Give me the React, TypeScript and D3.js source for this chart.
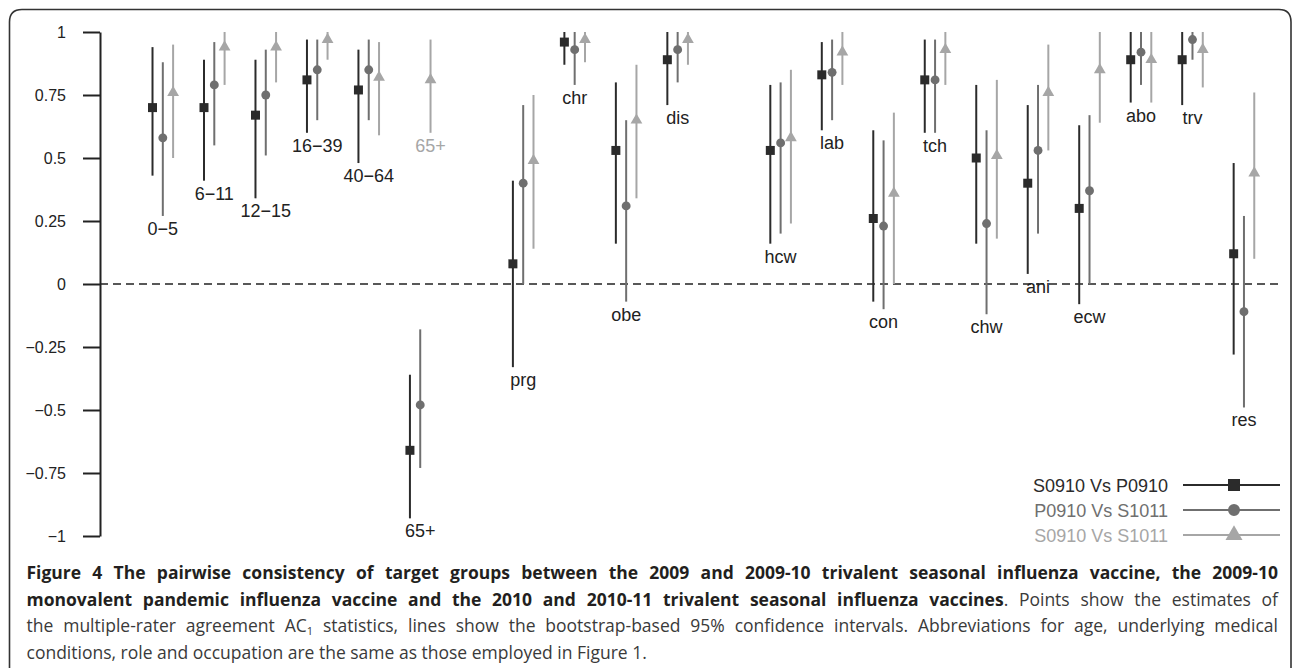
import React, { useRef, useEffect } from 'react';
import * as d3 from 'd3';

// target groups, in plotting order; gaps in the slot sequence are empty columns
const groups = ['0−5', '6−11', '12−15', '16−39', '40−64', '65+', 'prg', 'chr', 'obe', 'dis', 'hcw', 'lab', 'con', 'tch', 'chw', 'ani', 'ecw', 'abo', 'trv', 'res'];
const slots = [0, 1, 2, 3, 4, 5, 7, 8, 9, 10, 12, 13, 14, 15, 16, 17, 18, 19, 20, 21];

const seriesNames = ['S0910 Vs P0910', 'P0910 Vs S1011', 'S0910 Vs S1011'];

// S0910 Vs P0910
const est1 = [0.70, 0.70, 0.67, 0.81, 0.77, -0.66, 0.08, 0.96, 0.53, 0.89, 0.53, 0.83, 0.26, 0.81, 0.50, 0.40, 0.30, 0.89, 0.89, 0.12];
const lo1 = [0.43, 0.41, 0.34, 0.60, 0.48, -0.93, -0.33, 0.87, 0.16, 0.71, 0.16, 0.61, -0.07, 0.60, 0.16, 0.04, -0.08, 0.72, 0.71, -0.28];
const hi1 = [0.94, 0.89, 0.89, 0.97, 0.93, -0.36, 0.41, 1.0, 0.80, 1.0, 0.79, 0.96, 0.61, 0.97, 0.79, 0.71, 0.63, 1.0, 1.0, 0.48];

// P0910 Vs S1011
const est2 = [0.58, 0.79, 0.75, 0.85, 0.85, -0.48, 0.40, 0.93, 0.31, 0.93, 0.56, 0.84, 0.23, 0.81, 0.24, 0.53, 0.37, 0.92, 0.97, -0.11];
const lo2 = [0.27, 0.55, 0.51, 0.65, 0.65, -0.73, 0.0, 0.79, -0.07, 0.80, 0.20, 0.65, -0.10, 0.60, -0.12, 0.20, 0.0, 0.79, 0.89, -0.49];
const hi2 = [0.88, 0.96, 0.93, 0.97, 0.97, -0.18, 0.71, 1.0, 0.65, 1.0, 0.80, 0.97, 0.57, 0.97, 0.61, 0.79, 0.67, 1.0, 1.0, 0.27];

// S0910 Vs S1011
const est3 = [0.76, 0.94, 0.94, 0.97, 0.82, 0.81, 0.49, 0.97, 0.65, 0.97, 0.58, 0.92, 0.36, 0.93, 0.51, 0.76, 0.85, 0.89, 0.93, 0.44];
const lo3 = [0.50, 0.79, 0.80, 0.89, 0.59, 0.60, 0.14, 0.88, 0.34, 0.87, 0.24, 0.79, 0.0, 0.79, 0.18, 0.53, 0.64, 0.72, 0.78, 0.10];
const hi3 = [0.95, 1.0, 1.0, 1.0, 0.96, 0.97, 0.75, 1.0, 0.87, 1.0, 0.85, 1.0, 0.68, 1.0, 0.81, 0.95, 1.0, 1.0, 1.0, 0.76];

const yTicks = [1, 0.75, 0.5, 0.25, 0, -0.25, -0.5, -0.75, -1];
const yTickLabels = ['1', '0.75', '0.5', '0.25', '0', '−0.25', '−0.5', '−0.75', '−1'];

// groups whose third series sits far away from the others get a separate grey label
const splitGroups = ['65+'];

const captionBold1 = 'Figure 4 The pairwise consistency of target groups between the 2009 and 2009-10 trivalent seasonal influenza vaccine, the 2009-10';
const captionBold2 = 'monovalent pandemic influenza vaccine and the 2010 and 2010-11 trivalent seasonal influenza vaccines';
const captionRest2 = '. Points show the estimates of';
const captionLine3a = 'the multiple-rater agreement AC';
const captionLine3b = ' statistics, lines show the bootstrap-based 95% confidence intervals. Abbreviations for age, underlying medical';
const captionLine4 = 'conditions, role and occupation are the same as those employed in Figure 1.';

const colors = ['#2b2b2b', '#6f6f6f', '#a6a6a6'];
const offsets = [-0.2, 0, 0.2];
const symbols = [d3.symbolSquare, d3.symbolCircle, d3.symbolTriangle];

const App: React.FC = () => {
  const chartRef = useRef<SVGSVGElement | null>(null);

  useEffect(() => {
    if (!chartRef.current) return;
    const svg = d3.select(chartRef.current);
    svg.selectAll('*').remove();

    const chartFont = '"Liberation Sans", Arial, sans-serif';
    const x = d3.scaleLinear().domain([-1.22, 21.7]).range([100, 1280]);
    const y = d3.scaleLinear().domain([-1, 1]).range([536, 32]);

    // rounded frame round the figure
    svg
      .append('path')
      .attr('d', 'M9.5,668 L9.5,22 Q9.5,9.5 22,9.5 L1279,9.5 Q1291,9.5 1291,22 L1291,668')
      .attr('fill', 'none')
      .attr('stroke', '#333')
      .attr('stroke-width', 1.6);

    // y axis
    const yAxis = d3
      .axisLeft(y)
      .tickValues(yTicks)
      .tickFormat((d, i) => yTickLabels[i])
      .tickSize(17)
      .tickSizeOuter(0)
      .tickPadding(17);
    const ag = svg.append('g').attr('transform', 'translate(100,0)').call(yAxis);
    ag.selectAll('path, line').attr('stroke', '#222').attr('stroke-width', 2);
    ag.selectAll('text')
      .attr('font-family', chartFont)
      .attr('font-size', 16)
      .attr('fill', '#222');

    // zero reference
    svg
      .append('line')
      .attr('x1', x.range()[0])
      .attr('x2', x.range()[1])
      .attr('y1', y(0))
      .attr('y2', y(0))
      .attr('stroke', '#222')
      .attr('stroke-width', 1.4)
      .attr('stroke-dasharray', '8,5');

    const series = [
      { est: est1, lo: lo1, hi: hi1 },
      { est: est2, lo: lo2, hi: hi2 },
      { est: est3, lo: lo3, hi: hi3 },
    ];
    const symSizes = [81, 62, 60];

    series.forEach((s, k) => {
      const g = svg.append('g');
      g.selectAll('line')
        .data(groups)
        .enter()
        .append('line')
        .attr('x1', (d, i) => x(slots[i] + offsets[k]))
        .attr('x2', (d, i) => x(slots[i] + offsets[k]))
        .attr('y1', (d, i) => y(s.lo[i]))
        .attr('y2', (d, i) => y(s.hi[i]))
        .attr('stroke', colors[k])
        .attr('stroke-width', 2);
      g.selectAll('path')
        .data(groups)
        .enter()
        .append('path')
        .attr('d', d3.symbol().type(symbols[k]).size(symSizes[k]))
        .attr('transform', (d, i) => `translate(${x(slots[i] + offsets[k])},${y(s.est[i])})`)
        .attr('fill', colors[k]);
    });

    // group labels under the lowest interval end
    const labels: { text: string; x: number; y: number; color: string }[] = [];
    groups.forEach((grp, i) => {
      if (splitGroups.includes(grp)) {
        labels.push({ text: grp, x: x(slots[i]), y: y(Math.min(lo1[i], lo2[i])), color: '#222' });
        labels.push({ text: grp, x: x(slots[i] + offsets[2]), y: y(lo3[i]), color: '#a6a6a6' });
      } else {
        labels.push({ text: grp, x: x(slots[i]), y: y(Math.min(lo1[i], lo2[i], lo3[i])), color: '#222' });
      }
    });
    svg
      .append('g')
      .selectAll('text')
      .data(labels)
      .enter()
      .append('text')
      .attr('x', (d) => d.x)
      .attr('y', (d) => d.y + 19)
      .attr('text-anchor', 'middle')
      .attr('font-family', chartFont)
      .attr('font-size', 18)
      .attr('fill', (d) => d.color)
      .text((d) => d.text);

    // legend
    const legend = svg.append('g');
    const legendSizes = [144, 113, 125];
    seriesNames.forEach((name, k) => {
      const ly = 485 + k * 25;
      legend
        .append('text')
        .attr('x', 1168)
        .attr('y', ly + 6.5)
        .attr('text-anchor', 'end')
        .attr('font-family', chartFont)
        .attr('font-size', 18)
        .attr('fill', colors[k])
        .text(name);
      legend
        .append('line')
        .attr('x1', 1183)
        .attr('x2', 1280)
        .attr('y1', ly)
        .attr('y2', ly)
        .attr('stroke', colors[k])
        .attr('stroke-width', 2);
      legend
        .append('path')
        .attr('d', d3.symbol().type(symbols[k]).size(legendSizes[k]))
        .attr('transform', `translate(1234,${ly})`)
        .attr('fill', colors[k]);
    });

    // caption, justified lines
    const capFont = '"Open Sans", "Noto Sans", sans-serif';
    const cap = svg
      .append('g')
      .attr('font-family', capFont)
      .attr('font-size', 17.5)
      .attr('fill', '#231f20');
    const left = 26.5;
    const right = 1278;
    const baselines = [579, 605.5, 632, 658.5];

    const l1 = cap.append('text').attr('x', left).attr('y', baselines[0]);
    l1.append('tspan').attr('font-weight', 'bold').text(captionBold1);

    const l2 = cap.append('text').attr('x', left).attr('y', baselines[1]);
    l2.append('tspan').attr('font-weight', 'bold').text(captionBold2);
    l2.append('tspan').attr('fill', '#3a3a3a').text(captionRest2);

    const l3 = cap.append('text').attr('x', left).attr('y', baselines[2]).attr('fill', '#3a3a3a');
    l3.append('tspan').text(captionLine3a);
    l3.append('tspan').attr('font-size', 11).attr('dy', 3).text('1');
    l3.append('tspan').attr('dy', -3).text(captionLine3b);

    cap.append('text').attr('x', left).attr('y', baselines[3]).attr('fill', '#3a3a3a').text(captionLine4);

    [l1, l2, l3].forEach((t) => {
      const node = t.node() as SVGTextElement;
      const natural = node.getComputedTextLength();
      const spaces = (node.textContent || '').split(' ').length - 1;
      if (spaces > 0) t.attr('word-spacing', (right - left - natural) / spaces);
    });
  }, []);

  return (
    <svg
      ref={chartRef}
      width={1292}
      height={668}
      style={{ position: 'absolute', left: 0, top: 0, background: '#fff' }}
    ></svg>
  );
};

export default App;
